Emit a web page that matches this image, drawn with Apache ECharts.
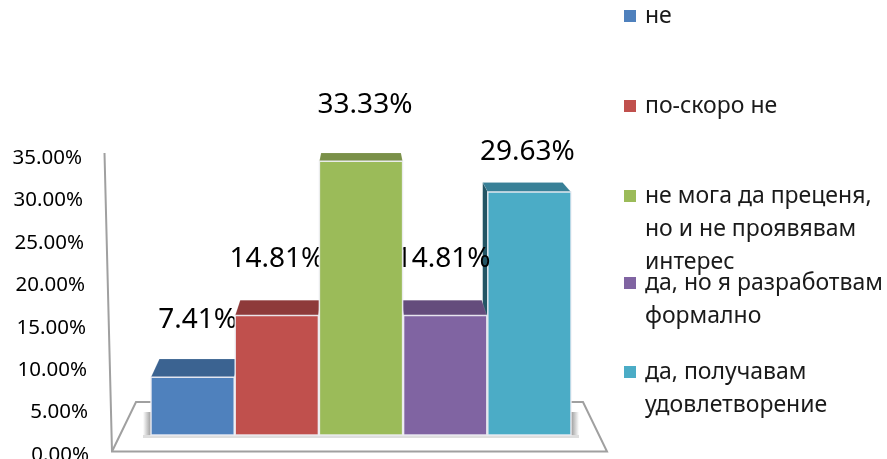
<!DOCTYPE html>
<html>
<head>
<meta charset="utf-8">
<style>html,body{margin:0;padding:0;background:#fff}#chart{width:887px;height:459px}</style>
<script src="https://cdn.jsdelivr.net/npm/echarts@6/dist/echarts.min.js"></script>
</head>
<body>
<div id="chart"></div>
<script>
const categories = ['не', 'по-скоро не', 'не мога да преценя, но и не проявявам интерес', 'да, но я разработвам формално', 'да, получавам удовлетворение'];
const legendLines = [['не'], ['по-скоро не'], ['не мога да преценя,', 'но и не проявявам', 'интерес'], ['да, но я разработвам', 'формално'], ['да, получавам', 'удовлетворение']];
const values = [7.41, 14.81, 33.33, 14.81, 29.63];
const tickValues = [0, 5, 10, 15, 20, 25, 30, 35];

const frontColors = ['#4f81bd', '#c0504d', '#9bbb59', '#8064a2', '#4bacc6'];
const topColors = ['#3b6391', '#8e3a3a', '#7a9048', '#644c7c', '#388097'];
const sideColors = ['#2f5077', '#742f2f', '#63753a', '#513e65', '#235565'];
// draw order: outer bars first so the inner ones cover them
const drawOrder = [1, 3, 5, 4, 2];
const labelShift = [[5, 57], [0, 57], [4, 56], [-2, 57], [-2, 40]];
const legendFirstLine = [16, 106, 196, 283, 372];
const legendLineHeight = 33;

const font = '"Noto Sans", sans-serif';

function renderBar(params, api) {
    const i = api.value(0), v = api.value(1);
    const band = api.size([1, 0])[0];
    const y0 = api.coord([0, 0])[1];
    const y = api.coord([i, v])[1];
    const cx = api.coord([i, v])[0];
    const mid = api.coord([2, 0])[0];
    const h = y0 - y;

    // front plane and back plane of the 3d box
    const front = y0 - 13 - h * 0.982;
    const back = y0 - 34 - h * 0.937;
    const base = y0 - 17;
    const l = cx - band / 2 + 0.5, r = cx + band / 2 - 0.5;
    const bl = l + (mid - l) * 0.04, br = r + (mid - r) * 0.04;
    const color = frontColors[i];

    const children = [];
    if (i === 4) {
        children.push({
            type: 'polygon',
            shape: { points: [[bl, back], [l, front], [l, base], [bl, base]] },
            style: { fill: sideColors[i] }
        });
    }
    children.push({
        type: 'polygon',
        shape: { points: [[bl, back], [br, back], [r, front], [l, front]] },
        style: { fill: topColors[i], stroke: 'rgba(255,255,255,0.25)', lineWidth: 0.5 }
    });
    children.push({
        type: 'rect',
        shape: { x: l, y: front, width: r - l, height: base - front },
        style: { fill: color, stroke: 'rgba(240,240,245,0.9)', lineWidth: 1.5 }
    });
    children.push({
        type: 'text',
        z2: 10,
        style: {
            text: v.toFixed(2) + '%',
            x: cx + labelShift[i][0],
            y: front - labelShift[i][1],
            align: 'center',
            verticalAlign: 'middle',
            fill: '#000',
            font: '28px ' + font
        }
    });
    return { type: 'group', children };
}

function fade(x, x2) {
    return { type: 'linear', x: 0, y: 0, x2: 1, y2: 0, colorStops: [
        { offset: 0, color: x }, { offset: 1, color: x2 }
    ] };
}

const chart = echarts.init(document.getElementById('chart'));
chart.setOption({
    animation: false,
    backgroundColor: '#fff',
    grid: { left: 150.5, width: 421, top: 155, height: 297, outerBoundsMode: 'none' },
    xAxis: { type: 'category', data: categories, show: false },
    yAxis: {
        type: 'value', min: 0, max: 35, interval: 5,
        axisLine: { show: false },
        axisTick: { show: false },
        splitLine: { show: false },
        axisLabel: {
            margin: 60,
            hideOverlap: false,
            formatter: v => `{t${v}|${v.toFixed(2)}%}`,
            rich: Object.fromEntries(tickValues.map(t => [`t${t}`, {
                fontFamily: font, fontSize: 20.5, color: '#000', padding: [6, t / 5 + 1.5, 0, 0]
            }]))
        }
    },
    legend: categories.map((name, i) => {
        const n = legendLines[i].length;
        return {
            data: [name],
            left: 624,
            top: legendFirstLine[i] - (n - 1) * legendLineHeight - legendLineHeight / 2,
            padding: 0,
            icon: 'rect',
            itemWidth: 12,
            itemHeight: 12,
            selectedMode: false,
            // blank lines ahead of the text keep the swatch on the first line
            formatter: () => '\n'.repeat(n - 1) + legendLines[i].join('\n'),
            textStyle: {
                fontFamily: font, fontSize: 23, color: '#1a1a1a',
                lineHeight: legendLineHeight, padding: [0, 0, 0, 4]
            }
        };
    }),
    graphic: [
        // soft shadow under the bars
        { type: 'rect', z: 1, shape: { x: 143, y: 412, width: 8, height: 24 },
          style: { fill: fade('rgba(120,120,120,0)', 'rgba(120,120,120,0.75)') } },
        { type: 'rect', z: 1, shape: { x: 571, y: 412, width: 8, height: 24 },
          style: { fill: fade('rgba(120,120,120,0.75)', 'rgba(120,120,120,0)') } },
        { type: 'rect', z: 1, shape: { x: 143, y: 435, width: 436, height: 3 },
          style: { fill: '#dedede' } },
        { type: 'polyline', z: 1, shape: { points: [[104.5, 153], [112, 451.5], [607, 451.5], [583, 402], [560, 402]] },
          style: { stroke: '#a0a0a0', lineWidth: 2, fill: 'none' } },
        { type: 'polyline', z: 1, shape: { points: [[112, 451.5], [136, 402], [160, 402]] },
          style: { stroke: '#a0a0a0', lineWidth: 2, fill: 'none' } }
    ],
    series: categories.map((name, i) => ({
        name,
        type: 'custom',
        z: 2 + drawOrder[i],
        renderItem: renderBar,
        itemStyle: { color: frontColors[i] },
        encode: { x: 0, y: 1 },
        data: [[i, values[i]]]
    }))
});
</script>
</body>
</html>
